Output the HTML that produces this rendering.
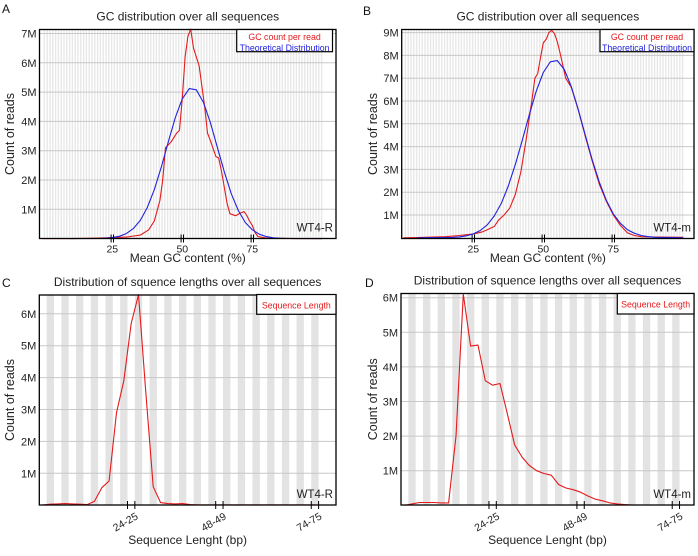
<!DOCTYPE html>
<html><head><meta charset="utf-8"><style>
html,body{margin:0;padding:0;background:#fff;}
svg{display:block;font-family:"Liberation Sans",sans-serif;}
</style></head><body>
<svg id="fig" width="698" height="556" viewBox="0 0 698 556"></svg>
<script>
// Panel A data (GC %, millions of reads)
const aRedX = [0,10,17,25,30,35,38,40,42,43,44,46,48,49,50,51,52,53,54,56,58,59,60,62,63,64,66,67,69,71,72,73,74,75,76,77,80,90,100];
const aRedY = [0,0,0.01,0.03,0.05,0.12,0.3,0.6,1.3,2.0,3.1,3.3,3.6,3.7,4.8,6.2,6.9,7.15,6.5,5.9,4.5,3.6,3.35,2.8,2.75,2.3,1.2,0.85,0.78,0.88,0.92,0.8,0.6,0.45,0.2,0.07,0.02,0,0];
const aBlueX = [10,20,22.5,25,27.5,30,32.5,35,37.5,40,42.5,45,47.5,50,52.5,55,57.5,60,62.5,65,67.5,70,72.5,75,77.5,80,82.5,85,87.5,100];
const aBlueY = [0,0.005,0.014,0.034,0.08,0.17,0.34,0.62,1.06,1.67,2.44,3.3,4.13,4.77,5.12,5.08,4.66,3.97,3.12,2.28,1.53,0.96,0.55,0.3,0.15,0.068,0.028,0.01,0.004,0];
// Panel B data
const bRedX = [0,5,15,20,25,28,30,32.5,34,36,38,40,42,44,46,47,48,49,50,51,52,53,54,55,56,58,60,62.5,65,67.5,70,72.5,75,77.5,80,82.5,85,90,100];
const bRedY = [0,0.01,0.05,0.1,0.17,0.25,0.35,0.5,0.77,1.0,1.3,1.9,2.9,4.4,6.1,7.0,7.2,7.9,8.55,8.7,9.0,9.1,8.95,8.6,8.1,7.0,6.6,5.6,4.45,3.35,2.35,1.6,1.0,0.55,0.22,0.1,0.05,0.03,0.02];
const bBlueX = [5,15,17.5,20,22.5,25,27.5,30,32.5,35,37.5,40,42.5,45,47.5,50,52.5,55,57.5,60,62.5,65,67.5,70,72.5,75,77.5,80,82.5,85,87.5,90,100];
const bBlueY = [0,0.008,0.019,0.041,0.086,0.17,0.32,0.57,0.96,1.51,2.27,3.21,4.28,5.4,6.44,7.25,7.72,7.77,7.38,6.63,5.62,4.5,3.41,2.44,1.65,1.05,0.64,0.36,0.2,0.1,0.05,0.02,0];
// Panel C / D data (length bins of 2 bp, millions)
const lenBins = ["0-1","2-3","4-5","6-7","8-9","10-11","12-13","14-15","16-17","18-19","20-21","22-23","24-25","26-27","28-29","30-31","32-33","34-35","36-37","38-39","40-41","42-43","44-45","46-47","48-49","50-51","52-53","54-55","56-57","58-59","60-61","62-63","64-65","66-67","68-69","70-71","72-73","74-75"];
const cVals = [0.01,0.03,0.04,0.05,0.04,0.03,0.02,0.12,0.55,0.76,2.9,3.9,5.7,6.6,3.5,0.58,0.08,0.05,0.04,0.05,0.02,0.01,0.01,0.01,0.01,0.01,0.01,0.01,0.01,0.01,0.01,0.01,0.01,0.01,0.01,0.01,0.01,0.01];
const dVals = [0,0.04,0.08,0.08,0.08,0.07,0.07,2.0,6.1,4.6,4.63,3.6,3.47,3.52,2.65,1.75,1.4,1.15,1.0,0.92,0.87,0.6,0.5,0.45,0.38,0.27,0.18,0.13,0.07,0.04,0.02,0.01,0.01,0.01,0.01,0.01,0.01,0.01];
const gcTicks = [25,50,75];
const lenTickLabels = ["24-25","48-49","74-75"];
const lenTickBins = [12,24,37];

const NS="http://www.w3.org/2000/svg";
const svg=document.getElementById('fig');
function mk(tag,attrs,parent){const e=document.createElementNS(NS,tag);for(const k in attrs)e.setAttribute(k,attrs[k]);(parent||svg).appendChild(e);return e;}
function txt(s,attrs,parent){const e=mk('text',attrs,parent);e.textContent=s;return e;}

function panel(p){
  const g=mk('g',{});
  
  
  const xs=p.xs, ys=v=>p.y0-v*p.ym;
  const sg=mk('g',{},g);
  
  
  if(p.type==='gc'){
    for(let i=0;i<100;i++){mk('rect',{x:xs(i)+1.4,y:p.T,width:1.4,height:p.B-p.T,fill:'#e8e8e8'},sg);}
  } else {
    for(let k=1;k<38;k+=2){mk('rect',{x:p.L+p.bw*k,y:p.T,width:p.bw,height:p.B-p.T,fill:'#e3e3e3'},sg);}
  }
  for(let m=1;m<=p.ymax;m++){
    const y=ys(m);
    const gl=mk('line',{x1:p.L,x2:p.R,y1:y,y2:y,stroke:'#c8c8c8','stroke-width':1},g);
    
    
    const t=txt(m+'M',{x:p.L-3,y:y+4,'text-anchor':'end','font-size':11,fill:'#222'},g);
    
    
  }
  p.series.forEach(s=>{
    let d='';
    s.x.forEach((xv,i)=>{d+=(i?'L':'M')+xs(xv).toFixed(1)+','+ys(s.y[i]).toFixed(1);});
    const pa=mk('path',{d:d,fill:'none',stroke:s.c,'stroke-width':1.1,'stroke-linejoin':'round'},g);
    
    
  });
  const fr=mk('rect',{x:p.L,y:p.T,width:p.R-p.L,height:p.B-p.T,fill:'none',stroke:'#000','stroke-width':1.3},g);
  
  
  if(p.type==='gc'){
    gcTicks.forEach(v=>{
      const x=xs(v);
      mk('line',{x1:x-1.2,x2:x-1.2,y1:p.B-4,y2:p.B+4,stroke:'#000'},g);
      mk('line',{x1:x+1.2,x2:x+1.2,y1:p.B-4,y2:p.B+4,stroke:'#000'},g);
      const t=txt(String(v),{x:x,y:p.B+14,'text-anchor':'middle','font-size':10.5,fill:'#222'},g);
      
      
    });
  } else {
    lenTickBins.forEach((k,i)=>{
      const x1=p.L+p.bw*k,x2=p.L+p.bw*(k+1);
      mk('line',{x1:x1,x2:x1,y1:p.B-4,y2:p.B+4,stroke:'#000'},g);
      mk('line',{x1:x2,x2:x2,y1:p.B-4,y2:p.B+4,stroke:'#000'},g);
      const cx=(x1+x2)/2-4, cy=p.B+20;
      const t=txt(lenTickLabels[i],{x:cx,y:cy,'text-anchor':'middle','font-size':10.5,fill:'#222',transform:`rotate(-30 ${cx} ${cy})`},g);
      
      
    });
  }
  const lg=mk('g',{},g);
  
  
  mk('rect',{x:p.lg[0],y:p.lg[1],width:p.lg[2]-p.lg[0],height:p.lg[3]-p.lg[1],fill:'#fff',stroke:'#000','stroke-width':1.2},lg);
  const lcx=(p.lg[0]+p.lg[2])/2;
  p.legend.forEach((l,i)=>{
    const t=txt(l[0],{x:lcx,y:p.lg[1]+(p.legend.length===1?14:10.5+i*11),'text-anchor':'middle','font-size':8.8,fill:l[1]},lg);
    
    
  });
  const sl=txt(p.sample,{x:p.R-3,y:p.B-7,'text-anchor':'end','font-size':11.5,fill:'#222'},g);
  
  
  const tt=txt(p.title,{x:(p.L+p.R)/2,y:p.T-9,'text-anchor':'middle','font-size':12,fill:'#222'},g);
  
  
  const xt=txt(p.xtitle,{x:(p.L+p.R)/2,y:p.xty,'text-anchor':'middle','font-size':12,fill:'#222'},g);
  
  
  const yc=(p.T+p.B)/2;
  const yt=txt('Count of reads',{x:p.ytx,y:yc,'text-anchor':'middle','font-size':12.5,fill:'#222',transform:`rotate(-90 ${p.ytx} ${yc})`},g);
  
  
  const pl=txt(p.letter,{x:p.lx,y:p.ly,'font-size':12,fill:'#111'},g);
  
  
}

panel({id:'panel-a',type:'gc',L:39.5,R:336,T:29.5,B:238.5,xs:v=>42.3+2.8*v,y0:238.6,ym:29.3,ymax:7,
  series:[{name:'gc-count-line',x:aRedX,y:aRedY,c:'#e41a1c'},{name:'theoretical-line',x:aBlueX,y:aBlueY,c:'#2222dd'}],
  lg:[236.7,29.5,332.5,51.7],legend:[['GC count per read','#e41a1c'],['Theoretical Distribution','#2222dd']],
  sample:'WT4-R',title:'GC distribution over all sequences',xtitle:'Mean GC content (%)',xty:262,ytx:14,letter:'A',lx:2,ly:13});
panel({id:'panel-b',type:'gc',L:401.7,R:694,T:29.5,B:238.5,xs:v=>403.3+2.8*v,y0:237.8,ym:22.8,ymax:9,
  series:[{name:'gc-count-line',x:bRedX,y:bRedY,c:'#e41a1c'},{name:'theoretical-line',x:bBlueX,y:bBlueY,c:'#2222dd'}],
  lg:[600,29.5,694,51.7],legend:[['GC count per read','#e41a1c'],['Theoretical Distribution','#2222dd']],
  sample:'WT4-m',title:'GC distribution over all sequences',xtitle:'Mean GC content (%)',xty:262,ytx:377,letter:'B',lx:363,ly:15});
panel({id:'panel-c',type:'len',L:39.3,R:336,T:295,B:505,bw:7.35,xs:k=>39.3+7.35*(k+0.5),y0:505.2,ym:31.9,ymax:6,
  series:[{name:'sequence-length-line',x:lenBins.map((b,i)=>i),y:cVals,c:'#e41a1c'}],
  lg:[256.7,294.5,336,314.3],legend:[['Sequence Length','#e41a1c']],
  sample:'WT4-R',title:'Distribution of squence lengths over all sequences',xtitle:'Sequence Lenght (bp)',xty:544,ytx:14,letter:'C',lx:2,ly:287});
panel({id:'panel-d',type:'len',L:401,R:694,T:293.5,B:505,bw:7.33,xs:k=>401+7.33*(k+0.5),y0:505.3,ym:34.6,ymax:6,
  series:[{name:'sequence-length-line',x:lenBins.map((b,i)=>i),y:dVals,c:'#e41a1c'}],
  lg:[617.3,293.5,694,314],legend:[['Sequence Length','#e41a1c']],
  sample:'WT4-m',title:'Distribution of squence lengths over all sequences',xtitle:'Sequence Lenght (bp)',xty:544,ytx:377,letter:'D',lx:365,ly:287});
</script>
</body></html>
